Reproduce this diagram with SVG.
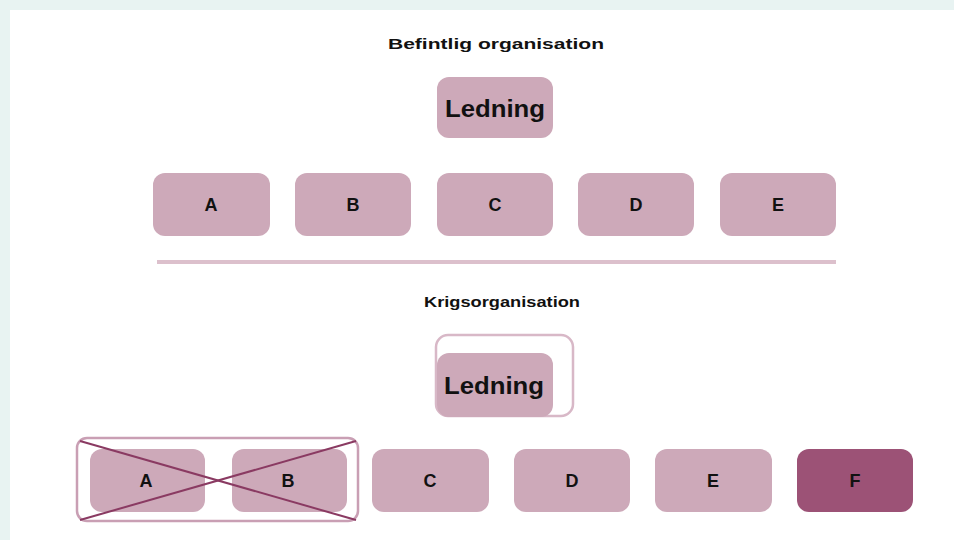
<svg xmlns="http://www.w3.org/2000/svg" width="954" height="540" viewBox="0 0 954 540">
<style>
.box{fill:#cda9b9}
.dark{fill:#9c5276}
.lbl{font-family:"Liberation Sans",Arial,sans-serif;font-weight:bold;font-size:18px;fill:#111;text-anchor:middle;dominant-baseline:central}
.led{font-family:"Liberation Sans",Arial,sans-serif;font-weight:bold;font-size:23px;fill:#111;text-anchor:middle;dominant-baseline:central}
.ttl{font-family:"Liberation Sans",Arial,sans-serif;font-weight:bold;font-size:15px;fill:#111;text-anchor:middle}
</style>
<rect x="0" y="0" width="954" height="540" fill="#e8f3f2"/>
<rect x="10" y="10" width="944" height="530" fill="#ffffff"/>
<text class="ttl" x="496" y="49" textLength="216" lengthAdjust="spacingAndGlyphs">Befintlig organisation</text>
<g id="ledning1"><rect class="box" x="437" y="77" width="116" height="61" rx="12"/><text class="led" x="495" y="109" textLength="100" lengthAdjust="spacingAndGlyphs">Ledning</text></g>
<g id="a1"><rect class="box" x="153" y="173" width="117" height="63" rx="12"/><text class="lbl" x="211" y="205">A</text></g>
<g id="b1"><rect class="box" x="295" y="173" width="116" height="63" rx="12"/><text class="lbl" x="353" y="205">B</text></g>
<g id="c1"><rect class="box" x="437" y="173" width="116" height="63" rx="12"/><text class="lbl" x="495" y="205">C</text></g>
<g id="d1"><rect class="box" x="578" y="173" width="116" height="63" rx="12"/><text class="lbl" x="636" y="205">D</text></g>
<g id="e1"><rect class="box" x="720" y="173" width="116" height="63" rx="12"/><text class="lbl" x="778" y="205">E</text></g>
<g id="connectors">
<line x1="157" y1="262" x2="836" y2="262" stroke="#dcc0cc" stroke-width="4"/>
</g>
<text class="ttl" x="502" y="307" textLength="156" lengthAdjust="spacingAndGlyphs">Krigsorganisation</text>
<g id="ledning2"><rect x="436" y="335" width="137" height="81" rx="12" fill="none" stroke="#d8b8c7" stroke-width="2.5"/><rect class="box" x="437" y="353" width="116" height="64" rx="12"/><text class="led" x="494" y="386" textLength="100" lengthAdjust="spacingAndGlyphs">Ledning</text></g>
<g id="a2"><rect class="box" x="90" y="449" width="115" height="63" rx="12"/><text class="lbl" x="146" y="481">A</text></g>
<g id="b2"><rect class="box" x="232" y="449" width="115" height="63" rx="12"/><text class="lbl" x="288" y="481">B</text></g>
<g id="crossed"><rect x="77" y="438" width="281" height="83" rx="10" fill="none" stroke="#c99fb4" stroke-width="2.5"/>
<line x1="80" y1="441" x2="356" y2="520" stroke="#8a3a62" stroke-width="2"/>
<line x1="80" y1="520" x2="356" y2="441" stroke="#8a3a62" stroke-width="2"/></g>
<g id="c2"><rect class="box" x="372" y="449" width="117" height="63" rx="12"/><text class="lbl" x="430" y="481">C</text></g>
<g id="d2"><rect class="box" x="514" y="449" width="116" height="63" rx="12"/><text class="lbl" x="572" y="481">D</text></g>
<g id="e2"><rect class="box" x="655" y="449" width="117" height="63" rx="12"/><text class="lbl" x="713" y="481">E</text></g>
<g id="f2"><rect class="dark" x="797" y="449" width="116" height="63" rx="12"/><text class="lbl" x="855" y="481">F</text></g>
</svg>
